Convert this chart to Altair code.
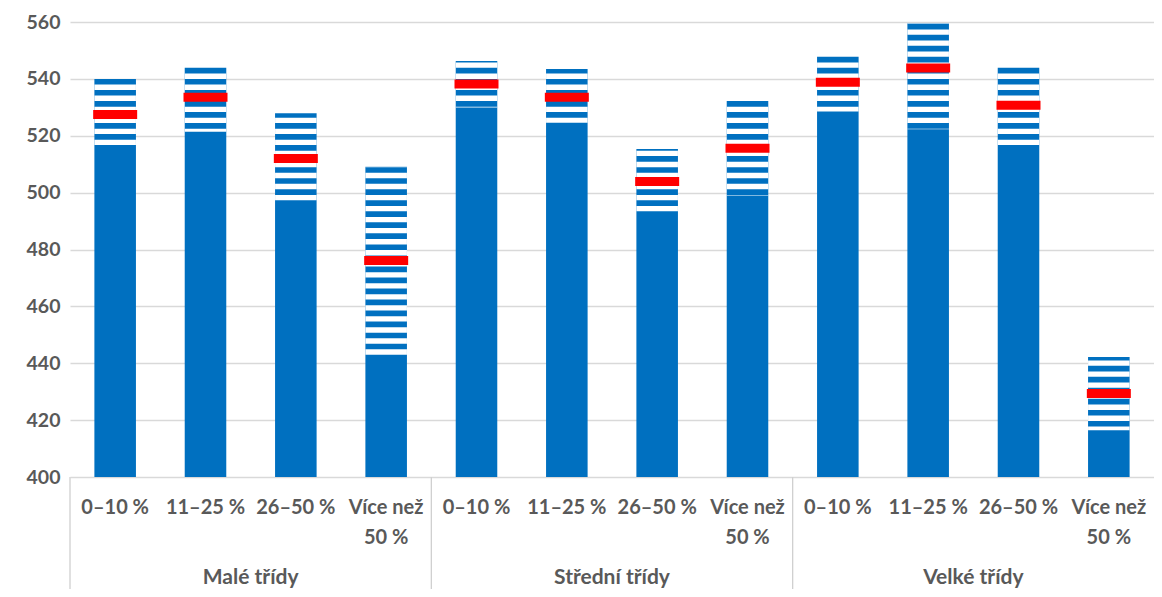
import altair as alt
import pandas as pd

groups = ["Malé třídy", "Střední třídy", "Velké třídy"]
subs = ["0–10 %", "11–25 %", "26–50 %", "Více než\n50 %"]

lower = [514.7, 521.4, 497.3, 443.0, 529.9, 524.6, 493.4, 499.0, 528.5, 522.3, 516.7, 416.4]
mean = [527.5, 533.5, 512.0, 476.1, 538.2, 533.5, 503.9, 515.6, 538.8, 543.8, 530.7, 429.4]
upper = [540.0, 543.9, 527.9, 509.1, 546.3, 543.5, 515.3, 532.2, 547.8, 559.6, 543.9, 442.2]

ids = [f"{g}|{s}" for g in groups for s in subs]
df = pd.DataFrame({"id": ids, "lower": lower, "mean": mean, "upper": upper})

# white stripe pattern inside the confidence band (decorative fill pattern)
PERIOD = 3.88
GAP = 1.88
ANCHOR = 540 - 2.0
rows = []
for i, lo, up in zip(ids, lower, upper):
    for k in range(-10, 50):
        t = ANCHOR - k * PERIOD
        b = t - GAP
        tt, bb = min(t, up), max(b, lo)
        if tt > bb:
            rows.append({"id": i, "top": tt, "bottom": bb})
stripes_df = pd.DataFrame(rows)

grp_df = pd.DataFrame({"id": [ids[g * 4 + 1] for g in range(3)], "group": groups})
sep_df = pd.DataFrame({"id": [ids[g * 4] for g in range(3)]})

FONT = "Lato"
GRAY = "#595959"
xscale = alt.Scale(domain=ids, paddingInner=0, paddingOuter=0)
xaxis = alt.Axis(
    labelExpr="split(split(datum.value, '|')[1], '\\n')",
    labelAngle=0, ticks=False, domain=False, grid=False,
    labelFont=FONT, labelFontSize=20, labelFontWeight="bold", labelColor=GRAY,
    labelPadding=20, labelLineHeight=30,
)
yscale = alt.Scale(domain=[400, 560], nice=False, zero=False)
yaxis = alt.Axis(
    values=list(range(400, 561, 20)), domain=False, ticks=False,
    gridColor="#d9d9d9", gridWidth=1.3,
    labelFont=FONT, labelFontSize=19.5, labelFontWeight="bold", labelColor=GRAY,
    labelPadding=10,
)

def X(**kw):
    return alt.X("id:N", sort=ids, scale=xscale, axis=xaxis, title=None, **kw)

bars = alt.Chart(df).mark_bar(color="#0070C0", width=alt.RelativeBandSize(0.46)).encode(
    x=X(),
    y=alt.Y("upper:Q", scale=yscale, axis=yaxis, title=None),
    y2=alt.datum(400),
)

stripes = alt.Chart(stripes_df).mark_bar(color="white", width=alt.RelativeBandSize(0.46)).encode(
    x=X(),
    y=alt.Y("top:Q", scale=yscale, axis=yaxis, title=None),
    y2="bottom:Q",
)

red = alt.Chart(df).mark_tick(
    color="#FF0000", thickness=9, size=44, orient="horizontal", opacity=1
).encode(
    x=X(),
    y=alt.Y("mean:Q", scale=yscale, axis=yaxis, title=None),
)

seps = alt.Chart(sep_df).mark_rule(color="#d0d0d0", strokeWidth=1.3).encode(
    x=X(bandPosition=0),
    y=alt.value(455),
    y2=alt.value(567),
)

glabels = alt.Chart(grp_df).mark_text(
    font=FONT, fontSize=21, fontWeight="bold", color=GRAY, baseline="alphabetic"
).encode(
    x=X(bandPosition=1),
    y=alt.value(562),
    text="group:N",
)

chart = alt.layer(bars, stripes, red, seps, glabels).properties(
    width=1084, height=455,
    autosize=alt.AutoSizeParams(type="none"),
    padding={"left": 62, "top": 14, "right": 0, "bottom": 112},
).configure_view(stroke=None)

chart.save("out.html", embed_options={"renderer": "svg", "actions": False})
